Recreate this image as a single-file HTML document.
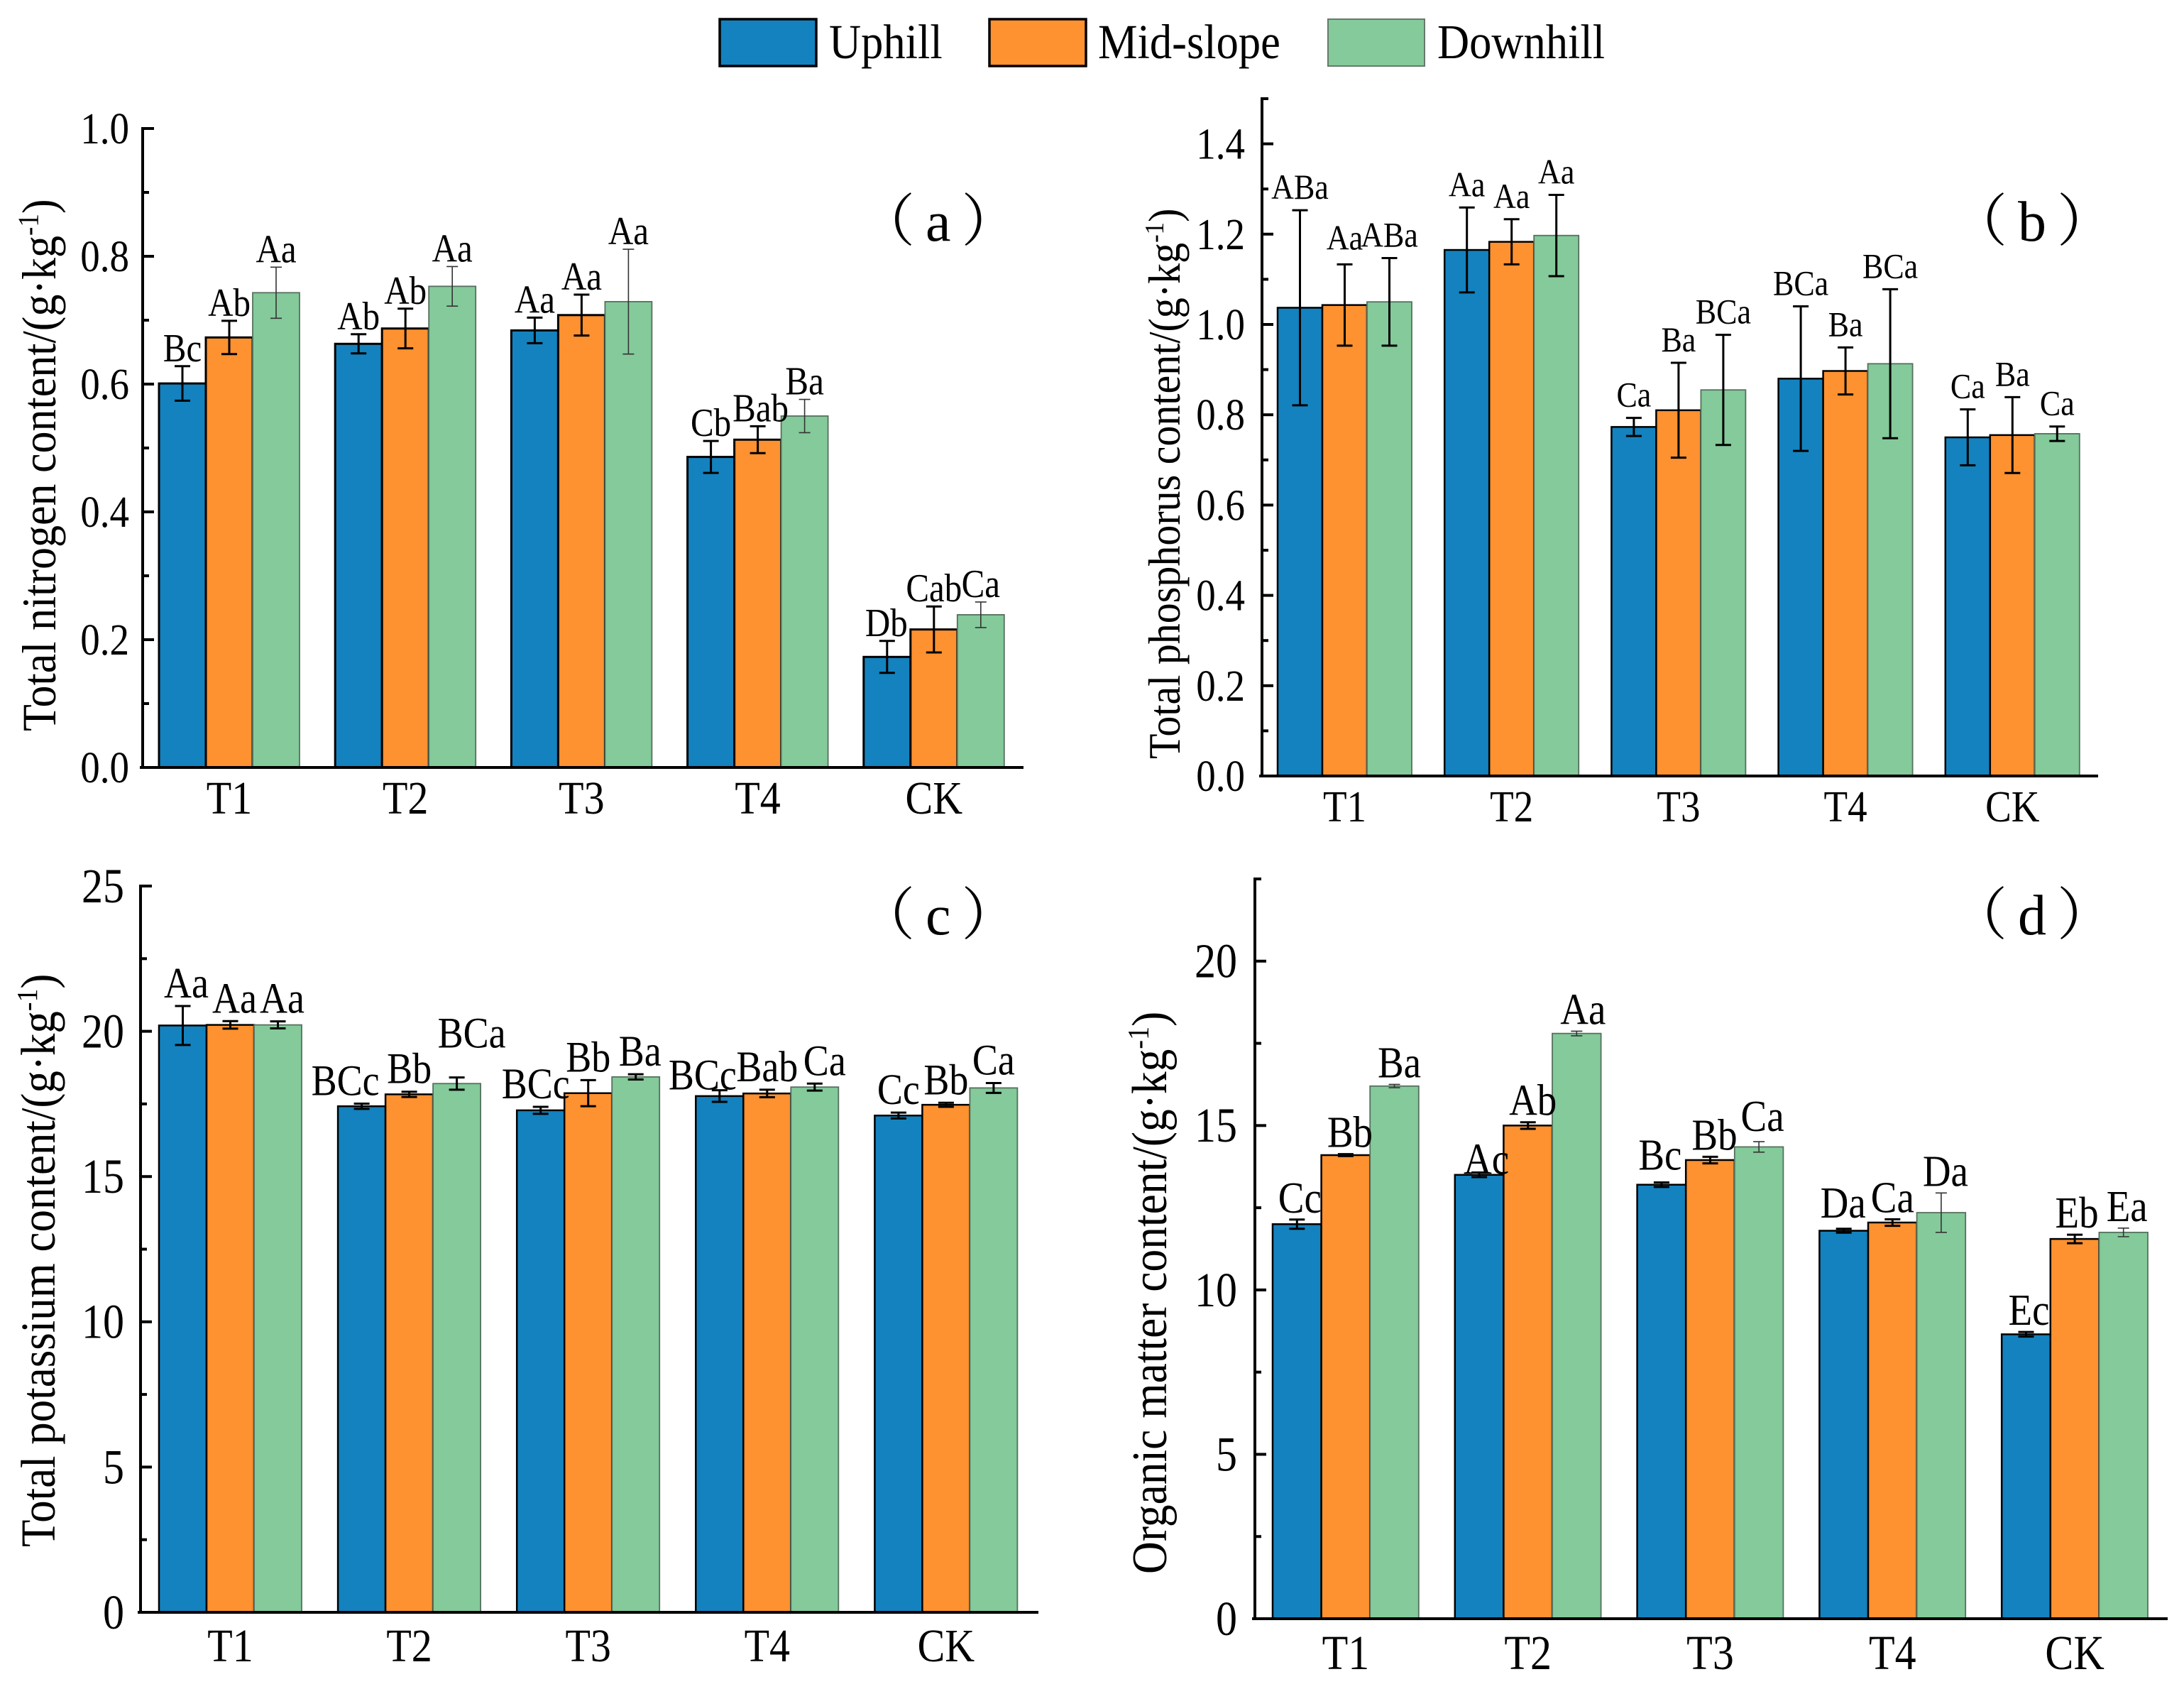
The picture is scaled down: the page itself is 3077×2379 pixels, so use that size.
<!DOCTYPE html>
<html>
<head>
<meta charset="utf-8">
<title>Soil nutrient content by slope position</title>
<style>
html,body{margin:0;padding:0;background:#fff;}
svg{display:block;}
text{font-family:"Liberation Serif","Noto Serif CJK SC",serif;fill:#000;}
</style>
</head>
<body>
<svg id="chart" xmlns="http://www.w3.org/2000/svg" width="3077" height="2379" viewBox="0 0 3077 2379">
  <rect width="3077" height="2379" fill="#fff"/>
  <g>
    <rect x="1014" y="27" width="136" height="66" fill="#1482be" stroke="#000" stroke-width="3.5"/>
    <text transform="translate(1168 82) scale(1 1.1)" font-size="62.5">Uphill</text>
    <rect x="1394" y="27" width="136" height="66" fill="#fe9130" stroke="#000" stroke-width="3.5"/>
    <text transform="translate(1547 82) scale(1 1.1)" font-size="62.5">Mid-slope</text>
    <rect x="1871" y="27" width="136" height="66" fill="#84ca9a" stroke="#667a6c" stroke-width="2"/>
    <text transform="translate(2025 82) scale(1 1.1)" font-size="62.5">Downhill</text>
  </g>
  <g id="panels"></g>
</svg>
<script>
// Shared categories
const categories = ['T1', 'T2', 'T3', 'T4', 'CK'];
const seriesNames = ['uphill', 'mid-slope', 'downhill'];

// (a) Total nitrogen
const nitrogenTicks = ['0.0', '0.2', '0.4', '0.6', '0.8', '1.0'];
const nitrogenUphill = [0.601, 0.663, 0.684, 0.486, 0.173];
const nitrogenMidslope = [0.673, 0.687, 0.708, 0.513, 0.216];
const nitrogenDownhill = [0.743, 0.753, 0.729, 0.550, 0.239];
const nitrogenUphillErr = [0.027, 0.015, 0.020, 0.025, 0.025];
const nitrogenMidslopeErr = [0.026, 0.031, 0.032, 0.021, 0.036];
const nitrogenDownhillErr = [0.040, 0.031, 0.082, 0.026, 0.020];
const nitrogenUphillSig = ['Bc', 'Ab', 'Aa', 'Cb', 'Db'];
const nitrogenMidslopeSig = ['Ab', 'Ab', 'Aa', 'Bab', 'Cab'];
const nitrogenDownhillSig = ['Aa', 'Aa', 'Aa', 'Ba', 'Ca'];

// (b) Total phosphorus
const phosphorusTicks = ['0.0', '0.2', '0.4', '0.6', '0.8', '1.0', '1.2', '1.4'];
const phosphorusUphill = [1.037, 1.165, 0.773, 0.880, 0.750];
const phosphorusMidslope = [1.043, 1.183, 0.810, 0.897, 0.755];
const phosphorusDownhill = [1.050, 1.197, 0.855, 0.913, 0.758];
const phosphorusUphillErr = [0.216, 0.094, 0.020, 0.160, 0.062];
const phosphorusMidslopeErr = [0.090, 0.050, 0.105, 0.052, 0.084];
const phosphorusDownhillErr = [0.097, 0.090, 0.122, 0.165, 0.016];
const phosphorusUphillSig = ['ABa', 'Aa', 'Ca', 'BCa', 'Ca'];
const phosphorusMidslopeSig = ['Aa', 'Aa', 'Ba', 'Ba', 'Ba'];
const phosphorusDownhillSig = ['ABa', 'Aa', 'BCa', 'BCa', 'Ca'];

// (c) Total potassium
const potassiumTicks = ['0', '5', '10', '15', '20', '25'];
const potassiumUphill = [20.20, 17.42, 17.28, 17.77, 17.10];
const potassiumMidslope = [20.22, 17.83, 17.87, 17.86, 17.47];
const potassiumDownhill = [20.22, 18.20, 18.43, 18.08, 18.05];
const potassiumUphillErr = [0.67, 0.09, 0.12, 0.20, 0.10];
const potassiumMidslopeErr = [0.13, 0.09, 0.45, 0.13, 0.07];
const potassiumDownhillErr = [0.12, 0.21, 0.09, 0.12, 0.17];
const potassiumUphillSig = ['Aa', 'BCc', 'BCc', 'BCc', 'Cc'];
const potassiumMidslopeSig = ['Aa', 'Bb', 'Bb', 'Bab', 'Bb'];
const potassiumDownhillSig = ['Aa', 'BCa', 'Ba', 'Ca', 'Ca'];

// (d) Organic matter
const organicTicks = ['0', '5', '10', '15', '20'];
const organicUphill = [12.00, 13.50, 13.20, 11.80, 8.65];
const organicMidslope = [14.10, 15.00, 13.95, 12.05, 11.55];
const organicDownhill = [16.20, 17.80, 14.35, 12.35, 11.75];
const organicUphillErr = [0.14, 0.07, 0.07, 0.06, 0.07];
const organicMidslopeErr = [0.03, 0.10, 0.10, 0.10, 0.13];
const organicDownhillErr = [0.05, 0.07, 0.16, 0.60, 0.13];
const organicUphillSig = ['Cc', 'Ac', 'Bc', 'Da', 'Ec'];
const organicMidslopeSig = ['Bb', 'Ab', 'Bb', 'Ca', 'Eb'];
const organicDownhillSig = ['Ba', 'Aa', 'Ca', 'Da', 'Ea'];

const SVG_NS = 'http://www.w3.org/2000/svg';
const fills = ['#1482be', '#fe9130', '#84ca9a'];
const textStretch = 1.14;

const panels = [
  {
    key: 'a', letter: 'a', name: 'nitrogen', title: 'Total nitrogen content/(g·kg',
    ticks: nitrogenTicks, axisMax: 1.0,
    values: [nitrogenUphill, nitrogenMidslope, nitrogenDownhill],
    errs: [nitrogenUphillErr, nitrogenMidslopeErr, nitrogenDownhillErr],
    sigs: [nitrogenUphillSig, nitrogenMidslopeSig, nitrogenDownhillSig],
    axisX: 201, y0: 1081, yTop: 181, axisRight: 1442, barStart: 224, barW: 66, groupStep: 248.2,
    tickFont: 55, tickRight: 182, catFont: 58, catBase: 1146, sigFont: 49, sigGap: 7,
    titleX: 78, titleStart: 1030, titleFont: 62,
    panelX: 1209, panelBase: 339,
    greenErrThin: true, strokeW: 3,
    nudge: { '0-4': [-1, 0], '1-3': [4, 0] }
  },
  {
    key: 'b', letter: 'b', name: 'phosphorus', title: 'Total phosphorus content/(g·kg',
    ticks: phosphorusTicks, axisMax: 1.5,
    values: [phosphorusUphill, phosphorusMidslope, phosphorusDownhill],
    errs: [phosphorusUphillErr, phosphorusMidslopeErr, phosphorusDownhillErr],
    sigs: [phosphorusUphillSig, phosphorusMidslopeSig, phosphorusDownhillSig],
    axisX: 1778, y0: 1093, yTop: 139, axisRight: 2956, barStart: 1800, barW: 63, groupStep: 235.2,
    tickFont: 55, tickRight: 1754, catFont: 55, catBase: 1157, sigFont: 44, sigGap: 16,
    titleX: 1662, titleStart: 1069, titleFont: 58,
    panelX: 2748, panelBase: 339,
    greenErrThin: false, strokeW: 2.5,
    nudge: { '1-0': [0, -5] }
  },
  {
    key: 'c', letter: 'c', name: 'potassium', title: 'Total potassium content/(g·kg',
    ticks: potassiumTicks, axisMax: 25,
    values: [potassiumUphill, potassiumMidslope, potassiumDownhill],
    errs: [potassiumUphillErr, potassiumMidslopeErr, potassiumDownhillErr],
    sigs: [potassiumUphillSig, potassiumMidslopeSig, potassiumDownhillSig],
    axisX: 198, y0: 2271, yTop: 1248, axisRight: 1463, barStart: 224, barW: 67, groupStep: 252.1,
    tickFont: 60, tickRight: 175, catFont: 58, catBase: 2340, sigFont: 54, sigGap: 12,
    titleX: 77, titleStart: 2179, titleFont: 63,
    panelX: 1209, panelBase: 1316,
    greenErrThin: false, strokeW: 2.5,
    nudge: { '0-0': [5, 0], '1-0': [6, 0], '2-0': [6, 0], '0-1': [-23, 0], '2-1': [21, -30], '0-2': [-7, 0], '2-2': [6, 0], '0-3': [-24, 11], '2-3': [14, 0] }
  },
  {
    key: 'd', letter: 'd', name: 'organic-matter', title: 'Organic matter content/(g·kg',
    ticks: organicTicks, axisMax: 22.5,
    values: [organicUphill, organicMidslope, organicDownhill],
    errs: [organicUphillErr, organicMidslopeErr, organicDownhillErr],
    sigs: [organicUphillSig, organicMidslopeSig, organicDownhillSig],
    axisX: 1768, y0: 2280, yTop: 1238, axisRight: 3054, barStart: 1793, barW: 68.6, groupStep: 256.8,
    tickFont: 60, tickRight: 1743, catFont: 60, catBase: 2351, sigFont: 55, sigGap: 10,
    titleX: 1643, titleStart: 2217, titleFont: 63.5,
    panelX: 2748, panelBase: 1316,
    greenErrThin: true, strokeW: 2.5,
    nudge: { '0-0': [4, 0], '1-0': [6, 0], '2-0': [7, 0], '0-1': [10, 12], '1-1': [7, 0], '2-1': [9, 0], '0-2': [-2, -8], '1-2': [6, 0], '2-2': [5, -5], '0-3': [-1, -6], '2-3': [6, 0], '0-4': [4, 0], '1-4': [3, 0], '2-4': [5, 0] }
  }
];

function make(tag, attrs, parent) {
  const el = document.createElementNS(SVG_NS, tag);
  for (const k in attrs) el.setAttribute(k, attrs[k]);
  parent.appendChild(el);
  return el;
}

function yScale(p, v) {
  return p.y0 - (v / p.axisMax) * (p.y0 - p.yTop);
}

function xScale(p, group, series) {
  return p.barStart + group * p.groupStep + series * p.barW;
}

function stretched(x, y) {
  return 'translate(' + x + ' ' + y + ') scale(1 ' + textStretch + ')';
}

function drawPanel(p, root) {
  const g = make('g', {}, root);
  
  

  // Bars
  p.values.forEach(function (vals, s) {
    vals.forEach(function (v, c) {
      const top = yScale(p, v);
      const isGreen = s === 2;
      const bar = make('rect', {
        x: xScale(p, c, s), y: top, width: p.barW, height: p.y0 - top,
        fill: fills[s],
        stroke: isGreen ? '#55705e' : '#000',
        'stroke-width': isGreen ? 1.8 : p.strokeW
      }, g);
      
      
    });
  });

  // Error bars and significance letters
  p.values.forEach(function (vals, s) {
    vals.forEach(function (v, c) {
      const cx = xScale(p, c, s) + p.barW / 2;
      const hi = yScale(p, v + p.errs[s][c]);
      const lo = yScale(p, v - p.errs[s][c]);
      const thin = s === 2 && p.greenErrThin;
      const cap = thin ? 8 : 11;
      const color = thin ? '#333' : '#000';
      const sw = thin ? 1.6 : 3;
      const err = make('path', {
        d: 'M' + (cx - cap) + ' ' + hi + 'H' + (cx + cap) + 'M' + cx + ' ' + hi + 'V' + lo + 'M' + (cx - cap) + ' ' + lo + 'H' + (cx + cap),
        fill: 'none', stroke: color, 'stroke-width': sw
      }, g);
      
      

      const n = p.nudge[s + '-' + c] || [0, 0];
      const lab = make('text', {
        transform: stretched(cx + n[0], hi - p.sigGap + n[1]),
        'font-size': p.sigFont, 'text-anchor': 'middle'
      }, g);
      lab.textContent = p.sigs[s][c];
      
      
    });
  });

  // Y axis line and ticks
  const yAxis = make('line', { x1: p.axisX, x2: p.axisX, y1: p.yTop - 2, y2: p.y0 + 2, stroke: '#000', 'stroke-width': 4 }, g);
  
  

  const xAxis = make('line', { x1: p.axisX - 4, x2: p.axisRight, y1: p.y0, y2: p.y0, stroke: '#000', 'stroke-width': 4 }, g);
  
  

  p.ticks.forEach(function (label) {
    const v = parseFloat(label);
    const y = yScale(p, v);
    if (v !== 0) {
      const t = make('line', { x1: p.axisX, x2: p.axisX + 16, y1: y, y2: y, stroke: '#000', 'stroke-width': 4 }, g);
      
      
    }
    const txt = make('text', {
      transform: stretched(p.tickRight, y + p.tickFont * 0.335 * textStretch),
      'font-size': p.tickFont, 'text-anchor': 'end'
    }, g);
    txt.textContent = label;
    
    
  });

  const step = parseFloat(p.ticks[1]) - parseFloat(p.ticks[0]);
  for (let k = 0; (k + 0.5) * step <= p.axisMax + 1e-9; k++) {
    const y = yScale(p, (k + 0.5) * step);
    const m = make('line', { x1: p.axisX, x2: p.axisX + 9, y1: y, y2: y, stroke: '#000', 'stroke-width': 4 }, g);
    
    
  }

  // Category labels
  categories.forEach(function (cat, c) {
    const cx = xScale(p, c, 1) + p.barW / 2;
    const t = make('text', { transform: stretched(cx, p.catBase), 'font-size': p.catFont, 'text-anchor': 'middle' }, g);
    t.textContent = cat;
    
    
  });

  // Y axis title
  const title = make('text', {
    transform: 'translate(' + p.titleX + ' ' + p.titleStart + ') rotate(-90) scale(1 1.1)',
    'font-size': p.titleFont
  }, g);
  
  
  title.appendChild(document.createTextNode(p.title));
  const sup = make('tspan', { 'font-size': p.titleFont * 0.6, dy: -p.titleFont * 0.36 }, title);
  sup.textContent = '-1';
  const close = make('tspan', { dy: p.titleFont * 0.36 }, title);
  close.textContent = ')';

  // Panel letter
  const pl = make('text', { x: p.panelX, y: p.panelBase, 'font-size': 80, 'letter-spacing': '15' }, g);
  pl.textContent = '（' + p.letter + '）';
  
  
}

const panelRoot = document.getElementById('panels');
panels.forEach(function (p) { drawPanel(p, panelRoot); });
</script>
</body>
</html>
